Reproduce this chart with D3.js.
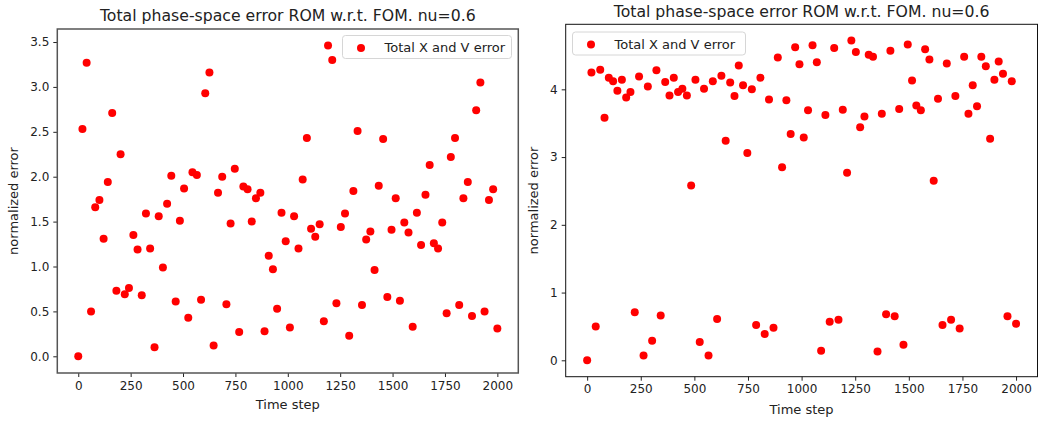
<!DOCTYPE html>
<html lang="en">
    <head>
        <meta charset="utf-8">
        <title>Total phase-space error ROM w.r.t. FOM</title>
        <script type="text/javascript" src="https://cdn.jsdelivr.net/npm/d3@7"></script>
        <style type="text/css">
            body { margin: 0; background: #fff; }
            svg { font-family: "DejaVu Sans", sans-serif; }
            .axis path, .axis line { stroke: #222; }
            .axis text { fill: #222; font-size: 12px; font-family: "DejaVu Sans", sans-serif; }
        </style>
    </head>
    <body>
        <script type="text/javascript">
            var w = 1038;
            var h = 423;

            //Data
            var timeSteps = [0, 20, 40, 61, 81, 101, 121, 141, 162, 182,
                202, 222, 242, 263, 283, 303, 323, 343, 364, 384,
                404, 424, 444, 465, 485, 505, 525, 545, 566, 586,
                606, 626, 646, 667, 687, 707, 727, 747, 768, 788,
                808, 828, 848, 869, 889, 909, 929, 949, 970, 990,
                1010, 1030, 1051, 1071, 1091, 1111, 1131, 1152, 1172, 1192,
                1212, 1232, 1253, 1273, 1293, 1313, 1333, 1354, 1374, 1394,
                1414, 1434, 1455, 1475, 1495, 1515, 1535, 1556, 1576, 1596,
                1616, 1636, 1657, 1677, 1697, 1717, 1737, 1758, 1778, 1798,
                1818, 1838, 1859, 1879, 1899, 1919, 1939, 1960, 1980, 2000];

            var leftErrors = [0.00, 2.53, 3.27, 0.50, 1.66, 1.74, 1.31, 1.94, 2.71, 0.73,
                2.25, 0.69, 0.76, 1.35, 1.19, 0.68, 1.59, 1.20, 0.10, 1.56,
                0.99, 1.70, 2.01, 0.61, 1.51, 1.87, 0.43, 2.05, 2.02, 0.63,
                2.93, 3.16, 0.12, 1.82, 2.00, 0.58, 1.48, 2.09, 0.27, 1.89,
                1.86, 1.50, 1.76, 1.82, 0.28, 1.12, 0.97, 0.53, 1.60, 1.28,
                0.32, 1.56, 1.20, 1.97, 2.43, 1.42, 1.33, 1.47, 0.39, 3.46,
                3.30, 0.59, 1.44, 1.59, 0.23, 1.84, 2.51, 0.57, 1.30, 1.39,
                0.96, 1.90, 2.42, 0.66, 1.41, 1.76, 0.62, 1.49, 1.38, 0.33,
                1.60, 1.24, 1.80, 2.13, 1.26, 1.20, 1.49, 0.48, 2.22, 2.43,
                0.57, 1.76, 1.94, 0.45, 2.74, 3.05, 0.50, 1.74, 1.86, 0.31];

            var rightErrors = [0.00, 4.25, 0.50, 4.29, 3.58, 4.17, 4.12, 3.98, 4.14, 3.88,
                3.96, 0.71, 4.19, 0.07, 4.04, 0.29, 4.28, 0.66, 4.11, 3.91,
                4.17, 3.96, 4.01, 3.91, 2.58, 4.14, 0.27, 4.01, 0.07, 4.12,
                0.61, 4.20, 3.24, 4.10, 3.90, 4.35, 4.06, 3.06, 4.00, 0.52,
                4.17, 0.39, 3.85, 0.48, 4.47, 2.85, 3.84, 3.34, 4.62, 4.37,
                3.29, 3.69, 4.65, 4.40, 0.14, 3.62, 0.57, 4.61, 0.60, 3.70,
                2.77, 4.72, 4.55, 3.44, 3.60, 4.51, 4.48, 0.13, 3.64, 0.68,
                4.57, 0.65, 3.71, 0.23, 4.66, 4.13, 3.76, 3.69, 4.59, 4.44,
                2.65, 3.86, 0.52, 4.38, 0.60, 3.90, 0.47, 4.48, 3.64, 4.06,
                3.75, 4.48, 4.34, 3.27, 4.14, 4.41, 4.23, 0.65, 4.12, 0.54];

            var xTicks = [0, 250, 500, 750, 1000, 1250, 1500, 1750, 2000];
            var leftYTicks = [0, 0.5, 1, 1.5, 2, 2.5, 3, 3.5];
            var rightYTicks = [0, 1, 2, 3, 4];

            var titleText = "Total phase-space error ROM w.r.t. FOM. nu=0.6";
            var legendText = "Total X and V error";

            var svg = d3.select("body")
                        .append("svg")
                        .attr("width", w)
                        .attr("height", h);

            function drawPanel(p) {
                var xScale = d3.scaleLinear()
                    .domain([-100, 2100])
                    .range([p.left, p.right]);

                var yScale = d3.scaleLinear()
                    .domain(p.yDomain)
                    .range([p.bottom, p.top]);

                var g = svg.append("g");

                var xAxis = d3.axisBottom(xScale)
                    .tickValues(xTicks)
                    .tickSize(4)
                    .tickPadding(4)
                    .tickFormat(d3.format("d"));
                var yAxis = d3.axisLeft(yScale)
                    .tickValues(p.yTicks)
                    .tickSize(4)
                    .tickPadding(4)
                    .tickFormat(d3.format(p.yFormat));

                g.append("g")
                    .attr("class", "axis")
                    .attr("transform", "translate(0," + p.bottom + ")")
                    .call(xAxis)
                    .call(function(s) { s.select(".domain").remove(); });

                g.append("g")
                    .attr("class", "axis")
                    .attr("transform", "translate(" + p.left + ",0)")
                    .call(yAxis)
                    .call(function(s) { s.select(".domain").remove(); });

                // frame
                g.append("rect")
                    .attr("x", p.left)
                    .attr("y", p.top)
                    .attr("width", p.right - p.left)
                    .attr("height", p.bottom - p.top)
                    .attr("fill", "none")
                    .attr("stroke", p.frameColor)
                    .attr("stroke-width", p.frameWidth);

                // points
                g.selectAll("circle.pt")
                    .data(p.values)
                    .enter()
                    .append("circle")
                    .attr("class", "pt")
                    .attr("cx", function(d, i) { return xScale(timeSteps[i]); })
                    .attr("cy", function(d) { return yScale(d); })
                    .attr("r", 4)
                    .attr("fill", "red");

                // title
                g.append("text")
                    .attr("x", (p.left + p.right) / 2)
                    .attr("y", p.titleY)
                    .attr("text-anchor", "middle")
                    .attr("font-size", "15.7px")
                    .attr("fill", "#222")
                    .text(titleText);

                // axis labels
                g.append("text")
                    .attr("x", (p.left + p.right) / 2)
                    .attr("y", p.xLabelY)
                    .attr("text-anchor", "middle")
                    .attr("font-size", "13px")
                    .attr("fill", "#222")
                    .text("Time step");

                g.append("text")
                    .attr("transform", "translate(" + p.yLabelX + "," + ((p.top + p.bottom) / 2) + ") rotate(-90)")
                    .attr("text-anchor", "middle")
                    .attr("font-size", "13px")
                    .attr("fill", "#222")
                    .text("normalized error");

                // legend
                var lg = g.append("g")
                    .attr("transform", "translate(" + p.legend[0] + "," + p.legend[1] + ")");
                lg.append("rect")
                    .attr("width", p.legend[2])
                    .attr("height", 23)
                    .attr("rx", 3)
                    .attr("fill", "white")
                    .attr("fill-opacity", 0.8)
                    .attr("stroke", "#d6d6d6");
                lg.append("circle")
                    .attr("cx", 18.5)
                    .attr("cy", 12.5)
                    .attr("r", 4)
                    .attr("fill", "red");
                lg.append("text")
                    .attr("x", 42)
                    .attr("y", 16.5)
                    .attr("font-size", "13px")
                    .attr("fill", "#222")
                    .text(legendText);
            }

            drawPanel({
                left: 57.3, right: 518.3, top: 29, bottom: 373,
                yDomain: [-0.186, 3.645], yTicks: leftYTicks, yFormat: ".1f",
                values: leftErrors,
                titleY: 21, xLabelY: 409, yLabelX: 18,
                frameColor: "#555", frameWidth: 1.5,
                legend: [342.5, 35.5, 169]
            });

            drawPanel({
                left: 565.7, right: 1037.5, top: 24.3, bottom: 376.7,
                yDomain: [-0.242, 4.96], yTicks: rightYTicks, yFormat: "d",
                values: rightErrors,
                titleY: 16.5, xLabelY: 414, yLabelX: 538,
                frameColor: "#111", frameWidth: 1,
                legend: [572.5, 32, 173]
            });
        </script>
    </body>
</html>
